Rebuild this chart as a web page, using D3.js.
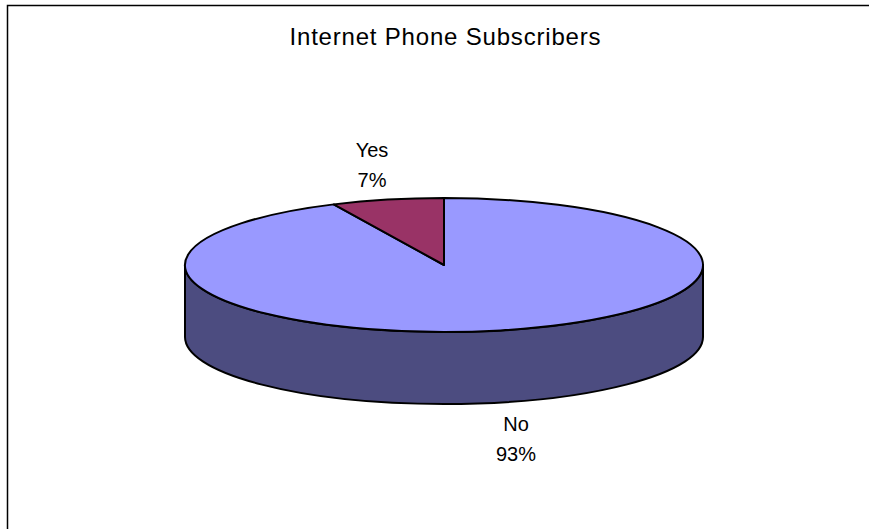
<!DOCTYPE html>
<html>
<head>
<meta charset="utf-8">
<script src="https://cdn.jsdelivr.net/npm/d3@7/dist/d3.min.js"></script>
<style>
  html, body { margin: 0; padding: 0; background: #fff; }
  svg { display: block; }
  text { font-family: "Liberation Sans", Arial, sans-serif; fill: #000; }
</style>
</head>
<body>
<svg id="chart" width="869" height="529"></svg>
<script>
// Survey answers and their shares (percent)
const categories = ["No", "Yes"];
const shares = [93, 7];
const labels = ["93%", "7%"];
const title = "Internet Phone Subscribers";

const topColors = { No: "#9999FF", Yes: "#993366" };
const sideColors = { No: "#4C4C80", Yes: "#662244" };

const W = 869, H = 529;
const cx = 444, cy = 265;     // centre of the top face
const rx = 259, ry = 67;      // ellipse radii of the tilted disc
const depth = 72;             // thickness of the disc
const labRx = 330, labRy = 104;

const svg = d3.select("#chart");

// chart frame
svg.append("path")
  .attr("d", `M7.5,${H} L7.5,5.5 L${W},5.5`)
  .attr("fill", "none").attr("stroke", "#000").attr("stroke-width", 1.5);

svg.append("text")
  .attr("x", 445).attr("y", 45)
  .attr("text-anchor", "middle")
  .attr("font-size", 24)
  .attr("textLength", 311).attr("lengthAdjust", "spacing")
  .text(title);

const data = categories.map((c, i) => ({ name: c, value: shares[i], label: labels[i] }));
const pie = d3.pie().value(d => d.value).sort(null).startAngle(0).endAngle(2 * Math.PI);
const arcs = pie(data);

// angle -> point on the ellipse (0 at 12 o'clock, clockwise)
const pt = (a, dy = 0) => [cx + rx * Math.sin(a), cy - ry * Math.cos(a) + dy];

const arcTo = (a0, a1, dy, sweep) => {
  const p = pt(a1, dy);
  const large = Math.abs(a1 - a0) > Math.PI ? 1 : 0;
  return `A${rx},${ry} 0 ${large} ${sweep} ${p[0]},${p[1]}`;
};

const g = svg.append("g");

// outer walls: only the front half (pi/2 .. 3pi/2) faces the viewer
arcs.forEach(d => {
  const b0 = Math.max(d.startAngle, Math.PI / 2);
  const b1 = Math.min(d.endAngle, 3 * Math.PI / 2);
  if (b1 <= b0) return;
  const p0 = pt(b0), p1d = pt(b1, depth);
  const path = `M${p0[0]},${p0[1]} ${arcTo(b0, b1, 0, 1)} L${p1d[0]},${p1d[1]} ${arcTo(b1, b0, depth, 0)} Z`;
  g.append("path")
    .attr("d", path)
    .attr("fill", sideColors[d.data.name])
    .attr("stroke", "#000").attr("stroke-width", 2).attr("stroke-linejoin", "round");
});

// top faces
arcs.forEach(d => {
  const p0 = pt(d.startAngle);
  const path = `M${cx},${cy} L${p0[0]},${p0[1]} ${arcTo(d.startAngle, d.endAngle, 0, 1)} Z`;
  g.append("path")
    .attr("d", path)
    .attr("fill", topColors[d.data.name])
    .attr("stroke", "#000").attr("stroke-width", 2).attr("stroke-linejoin", "round");
});

// category + percentage labels outside each slice
arcs.forEach(d => {
  const mid = (d.startAngle + d.endAngle) / 2;
  const x = cx + labRx * Math.sin(mid);
  let y = cy - labRy * Math.cos(mid);
  if (Math.cos(mid) < 0) y += depth;
  const t = svg.append("text").attr("text-anchor", "middle").attr("font-size", 20);
  t.append("tspan").attr("x", x).attr("y", y - 7).text(d.data.name);
  t.append("tspan").attr("x", x).attr("y", y + 23).text(d.data.label);
});
</script>
</body>
</html>
